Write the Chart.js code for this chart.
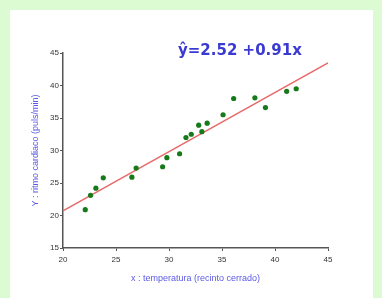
<!DOCTYPE html>
<html>
<head>
<meta charset="utf-8">
<script src="https://cdn.jsdelivr.net/npm/chart.js@4/dist/chart.umd.min.js"></script>
<style>
  html, body { margin: 0; padding: 0; }
  body { width: 382px; height: 298px; background: #dcfbd2; position: relative; overflow: hidden; }
  #panel { position: absolute; left: 10px; top: 10px; width: 363px; height: 288px; background: #ffffff; }
  #eq { position: absolute; left: 178px; top: 41px; font: bold 15px 'DejaVu Sans', sans-serif; color: #3a3ad2; white-space: nowrap; }
</style>
</head>
<body>
<div id="panel"><canvas id="scatterChart" width="363" height="288"></canvas></div>
<div id="eq">ŷ=2.52 +0.91x</div>
<script>
// temperatura (x) y ritmo cardiaco (y)
const tempX = [22.1, 22.6, 23.1, 23.8, 26.5, 26.9, 29.4, 29.8, 31.0, 31.6, 32.1, 32.8, 33.1, 33.6, 35.1, 36.1, 38.1, 39.1, 41.1, 42.0];
const pulseY = [20.9, 23.1, 24.2, 25.8, 25.9, 27.3, 27.5, 28.9, 29.5, 32.0, 32.5, 33.9, 32.9, 34.2, 35.5, 38.0, 38.1, 36.6, 39.1, 39.5];
// recta de regresión  y = 2.52 + 0.91x
const lineX = [20, 45];
const lineY = [20.72, 43.47];
const xTicks = [20, 25, 30, 35, 40, 45];
const yTicks = [15, 20, 25, 30, 35, 40, 45];

const scatterPts = tempX.map((x, i) => ({ x: x, y: pulseY[i] }));
const linePts = lineX.map((x, i) => ({ x: x, y: lineY[i] }));

new Chart(document.getElementById('scatterChart').getContext('2d'), {
    type: 'scatter',
    data: {
        datasets: [{
            data: scatterPts,
            backgroundColor: '#167a1a',
            borderWidth: 0,
            pointRadius: 2.6
        }, {
            type: 'line',
            data: linePts,
            borderColor: '#e86a6a',
            borderWidth: 1.4,
            pointRadius: 0,
            fill: false
        }]
    },
    options: {
        responsive: false,
        animation: false,
        layout: { padding: { left: 0, top: 43, right: 45, bottom: 0 } },
        plugins: { legend: { display: false }, tooltip: { enabled: false } },
        scales: {
            x: {
                type: 'linear',
                min: 20, max: 45,
                afterBuildTicks: axis => { axis.ticks = xTicks.map(v => ({ value: v })); },
                afterFit: axis => { axis.height = 50; },
                grid: { drawOnChartArea: false, drawTicks: true, tickLength: 3, color: '#555' },
                border: { color: '#555', width: 1.5 },
                ticks: { color: '#333', font: { family: 'Liberation Sans', size: 8 }, padding: 4, maxRotation: 0 },
                title: { display: true, text: 'x : temperatura (recinto cerrado)', color: '#5a5ae6',
                         font: { family: 'Liberation Sans', size: 9 }, padding: { top: 0, bottom: 14 } }
            },
            y: {
                type: 'linear',
                min: 15, max: 45,
                afterBuildTicks: axis => { axis.ticks = yTicks.map(v => ({ value: v })); },
                afterFit: axis => { axis.width = 53; },
                grid: { drawOnChartArea: false, drawTicks: true, tickLength: 3, color: '#555' },
                border: { color: '#555', width: 1.5 },
                ticks: { color: '#333', font: { family: 'Liberation Sans', size: 8 }, padding: 1 },
                title: { display: true, text: 'Y : ritmo cardiaco (puls/min)', color: '#5a5ae6',
                         font: { family: 'Liberation Sans', size: 9 }, padding: { top: 20, bottom: 0 } }
            }
        }
    }
});
</script>
</body>
</html>
